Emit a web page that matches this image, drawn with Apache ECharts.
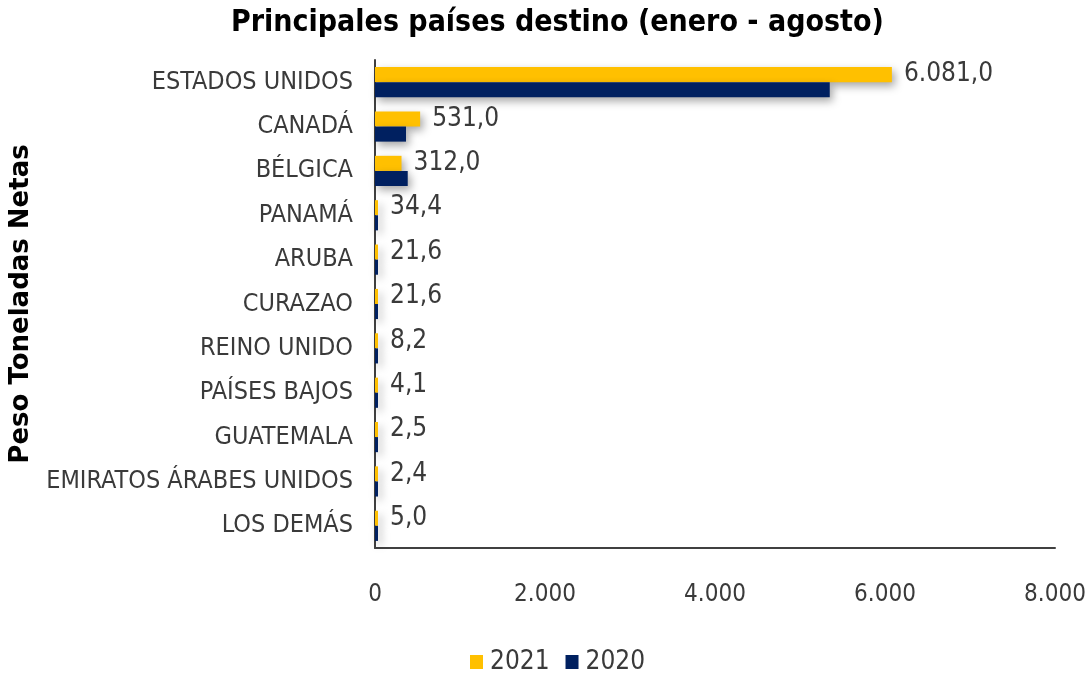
<!DOCTYPE html>
<html>
<head>
<meta charset="utf-8">
<script src="https://cdn.jsdelivr.net/npm/echarts@6/dist/echarts.min.js"></script>
<style>
    html, body { margin: 0; padding: 0; background: #fff; }
    #chart { width: 1092px; height: 675px; }
</style>
</head>
<body>
<div id="chart"></div>
<script>
    // paises destino, de arriba hacia abajo
    var paises = ['ESTADOS UNIDOS', 'CANADÁ', 'BÉLGICA', 'PANAMÁ', 'ARUBA', 'CURAZAO',
        'REINO UNIDO', 'PAÍSES BAJOS', 'GUATEMALA', 'EMIRATOS ÁRABES UNIDOS', 'LOS DEMÁS'];
    var datos2021 = [6081.0, 531.0, 312.0, 34.4, 21.6, 21.6, 8.2, 4.1, 2.5, 2.4, 5.0];
    // 2020 (aprox.)
    var datos2020 = [5350, 365, 385, 25, 20, 18, 10, 6, 4, 3, 30];
    var ticksX = [0, 2000, 4000, 6000, 8000];

    var fuente = '"DejaVu Sans Condensed", "DejaVu Sans", sans-serif';
    var azul = '#002060';
    var amarillo = '#FFC000';
    var gris = '#3a3a3a';

    // formato 6.081,0
    function formatoEs(v, dec) {
        var s = Number(v).toFixed(dec);
        var partes = s.split('.');
        partes[0] = partes[0].replace(/\B(?=(\d{3})+(?!\d))/g, '.');
        return dec > 0 ? partes[0] + ',' + partes[1] : partes[0];
    }

    var sombra = {
        shadowBlur: 8,
        shadowColor: 'rgba(0,0,0,0.35)',
        shadowOffsetX: 3,
        shadowOffsetY: 4
    };

    var chart = echarts.init(document.getElementById('chart'));
    chart.setOption({
        animation: false,
        title: {
            text: 'Principales países destino (enero - agosto)',
            left: 226,
            top: 3,
            textStyle: { fontFamily: fuente, fontSize: 30, fontWeight: 'bold', color: '#000' }
        },
        legend: {
            top: 644,
            left: 465,
            itemWidth: 13,
            itemHeight: 14,
            itemGap: 16,
            icon: 'rect',
            data: ['2021', '2020'],
            textStyle: { fontFamily: fuente, fontSize: 26, color: gris, padding: [0, 0, 0, 2] }
        },
        grid: { left: 375, right: 37, top: 60, bottom: 127, containLabel: false },
        xAxis: {
            type: 'value',
            min: 0,
            max: 8000,
            interval: 2000,
            splitLine: { show: false },
            axisLine: { show: true, lineStyle: { color: '#404040', width: 2 } },
            axisTick: { show: false },
            axisLabel: {
                margin: 35,
                fontFamily: fuente,
                fontSize: 24,
                color: gris,
                formatter: function (v) { return formatoEs(v, 0); }
            }
        },
        yAxis: {
            type: 'category',
            inverse: true,
            data: paises,
            name: 'Peso Toneladas Netas',
            nameLocation: 'middle',
            nameGap: 341,
            nameTextStyle: { fontFamily: '"DejaVu Sans", sans-serif', fontSize: 26, fontWeight: 'bold', color: '#000' },
            axisLine: { show: true, lineStyle: { color: '#404040', width: 2 } },
            axisTick: { show: false },
            axisLabel: { margin: 22, fontFamily: fuente, fontSize: 25, color: gris }
        },
        series: [
            {
                name: '2021',
                type: 'bar',
                data: datos2021,
                barGap: '0%',
                barCategoryGap: '32%',
                barMinHeight: 3,
                itemStyle: Object.assign({ color: amarillo }, sombra),
                label: {
                    show: true,
                    position: 'right',
                    distance: 12,
                    fontFamily: fuente,
                    fontSize: 26,
                    color: gris,
                    formatter: function (p) { return formatoEs(p.value, 1); }
                }
            },
            {
                name: '2020',
                type: 'bar',
                data: datos2020,
                barGap: '0%',
                barCategoryGap: '32%',
                barMinHeight: 3,
                itemStyle: Object.assign({ color: azul }, sombra)
            }
        ]
    });
</script>
</body>
</html>
